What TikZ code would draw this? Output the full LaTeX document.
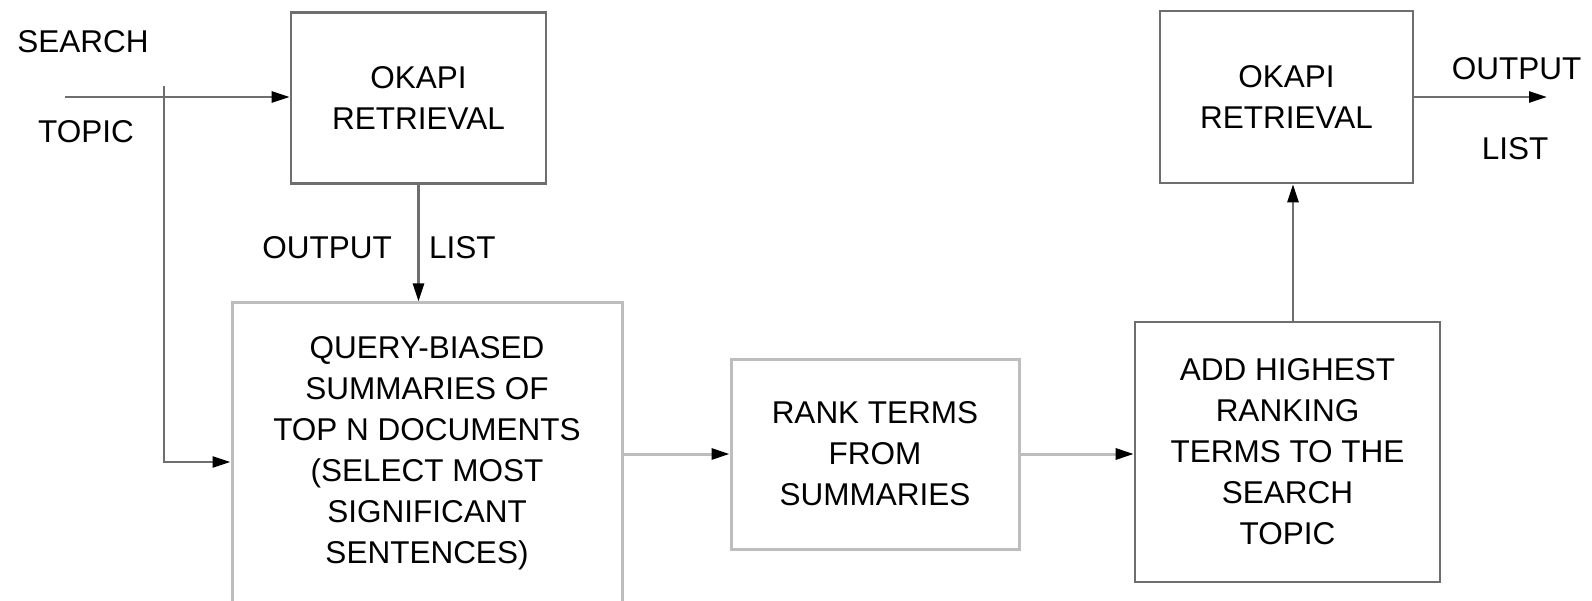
\documentclass[tikz,border=0pt]{standalone}
\usepackage{fontspec}
\setmainfont{Liberation Sans}
\usetikzlibrary{arrows.meta}
\usetikzlibrary{positioning}
\definecolor{darkgrey}{HTML}{6E6E6E}
\definecolor{lightgrey}{HTML}{BDBDBD}

\begin{document}
\begin{tikzpicture}[x=1pt,y=-1pt,
	every node/.style={font=\fontsize{31.5}{41}\selectfont, align=center},
	dark box/.style={draw=darkgrey, line width=2.6pt},
	light box/.style={draw=lightgrey, line width=3pt},
	dark line/.style={draw=darkgrey, line width=2.6pt},
	light line/.style={draw=lightgrey, line width=3pt},
	flow arrow/.style={-{Triangle[length=18pt,width=11pt,color=black]}}]
	
	\useasboundingbox (0,0) rectangle (1592,601);
	
	\node[dark box, minimum width=255pt, minimum height=171pt] (Okapi1) at (418.5,98) {OKAPI\\RETRIEVAL};
	\node[light box, minimum width=390pt, minimum height=300pt] (Summ) at (427,453)
		{QUERY-BIASED\\SUMMARIES OF\\TOP N DOCUMENTS\\(SELECT MOST\\SIGNIFICANT\\SENTENCES)};
	\node[light box, minimum width=288pt, minimum height=190pt] (Rank) at (875,454) {RANK TERMS\\FROM\\SUMMARIES};
	\node[dark box, minimum width=305pt, minimum height=260pt] (Add) at (1287.5,452)
		{ADD HIGHEST\\RANKING\\TERMS TO THE\\SEARCH\\TOPIC};
	\node[dark box, minimum width=253pt, minimum height=172pt] (Okapi2) at (1286.5,97) {OKAPI\\RETRIEVAL};
	
	\node (Search) at (83,42) {SEARCH};
	\node (Topic) at (86,132) {TOPIC};
	\coordinate (In) at (65,97);
	\coordinate (Branch) at (164,86);
	\coordinate (Out) at (1547,97);
	
	\draw[dark line, flow arrow] (In) -- (In -| Okapi1.west);
	\draw[dark line, flow arrow] (Branch) |- ([yshift=-9pt]Summ.west);
	\draw[dark line, flow arrow] (Okapi1.south) -- (Okapi1.south |- Summ.north)
		node[pos=0.54, left=22pt] {OUTPUT}
		node[pos=0.54, right=6pt] {LIST};
	\draw[light line, flow arrow] (Summ.east |- Rank.west) -- (Rank.west);
	\draw[light line, flow arrow] (Rank.east) -- (Rank.east -| Add.west);
	\draw[dark line, flow arrow] ([xshift=5.5pt]Add.north) -- ([xshift=5.5pt]Add.north |- Okapi2.south);
	\draw[dark line, flow arrow] (Okapi2.east) -- (Out)
		node[pos=0.77, above=13pt] {OUTPUT}
		node[pos=0.76, below=36pt] {LIST};
\end{tikzpicture}
\end{document}
